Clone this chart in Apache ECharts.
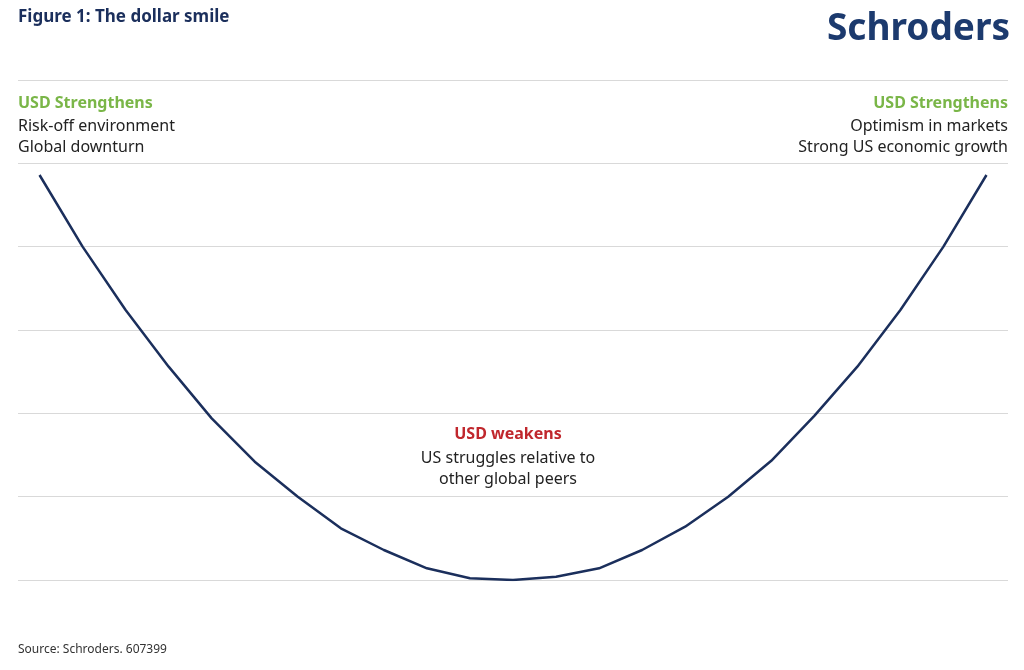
<!DOCTYPE html>
<html><head><meta charset="utf-8">
<script src="https://cdn.jsdelivr.net/npm/echarts@6/dist/echarts.min.js"></script>
<style>body{margin:0;background:#fff}#c{width:1024px;height:670px}</style>
</head><body><div id="c"></div>
<script>
var xSteps = [0,1,2,3,4,5,6,7,8,9,10,11,12,13,14,15,16,17,18,19,20,21,22];
var usdLevel = [4.86,4.0,3.24,2.56,1.94,1.42,1.0,0.62,0.36,0.14,0.02,0,0.04,0.14,0.36,0.64,1.0,1.43,1.97,2.56,3.24,4.0,4.86];
var yTicks = [0,1,2,3,4,5,6];

var chart = echarts.init(document.getElementById('c'));
var font = 'Noto Sans';
var navy = '#1b2f5c';
chart.setOption({
  animation: false,
  grid: { left: 18, right: 16, top: 80, bottom: 90 },
  xAxis: { type: 'value', min: -0.5, max: 22.5, show: false },
  yAxis: {
    type: 'value', min: yTicks[0], max: yTicks[yTicks.length - 1], interval: 1,
    axisLabel: { show: false }, axisLine: { show: false }, axisTick: { show: false },
    splitLine: { lineStyle: { color: '#d9d9d9', width: 1 } }
  },
  series: [{
    type: 'line',
    data: xSteps.map(function (x, i) { return [x, usdLevel[i]]; }),
    showSymbol: false,
    lineStyle: { color: navy, width: 2.5 }
  }],
  graphic: [
    { type: 'text', x: 18, y: 9, style: { text: 'Figure 1: The dollar smile', font: 'bold 17px ' + font, fill: navy } },
    { type: 'text', x: 1010, y: 11, style: { text: 'Schroders', font: 'bold 37px ' + font, fill: '#1c3a6e', align: 'right' } },
    { type: 'text', x: 18, y: 95, style: { text: 'USD Strengthens', font: 'bold 16px ' + font, fill: '#7ab648' } },
    { type: 'text', x: 18, y: 116, style: { text: 'Risk-off environment\nGlobal downturn', font: '16px ' + font, fill: '#222', lineHeight: 21 } },
    { type: 'text', x: 1008, y: 95, style: { text: 'USD Strengthens', font: 'bold 16px ' + font, fill: '#7ab648', align: 'right' } },
    { type: 'text', x: 1008, y: 116, style: { text: 'Optimism in markets\nStrong US economic growth', font: '16px ' + font, fill: '#222', align: 'right', lineHeight: 21 } },
    { type: 'text', x: 508, y: 426, style: { text: 'USD weakens', font: 'bold 16px ' + font, fill: '#c0272d', align: 'center' } },
    { type: 'text', x: 508, y: 448, style: { text: 'US struggles relative to\nother global peers', font: '16px ' + font, fill: '#222', align: 'center', lineHeight: 21 } },
    { type: 'text', x: 18, y: 644, style: { text: 'Source: Schroders. 607399', font: '12px ' + font, fill: '#333' } }
  ]
});
</script></body></html>
